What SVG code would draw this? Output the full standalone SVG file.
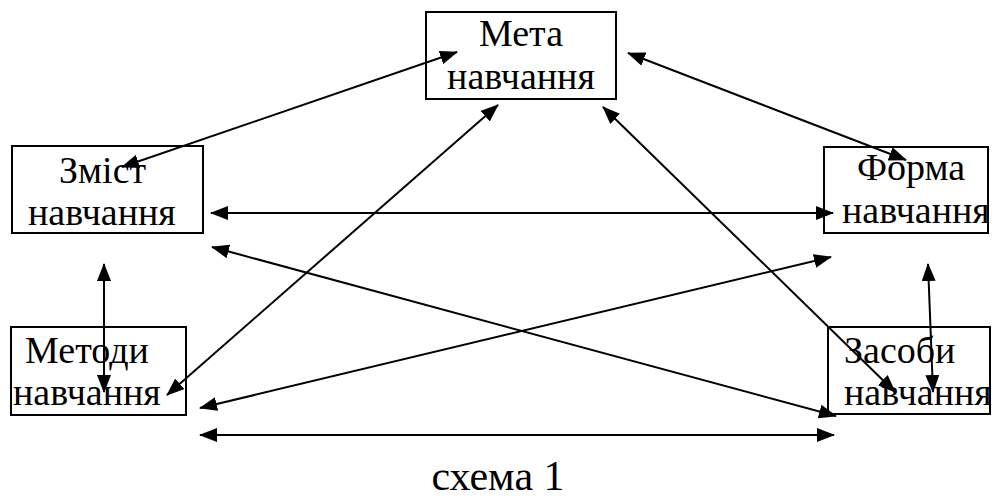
<svg xmlns="http://www.w3.org/2000/svg" width="997" height="498" viewBox="0 0 997 498">
<style>
  .box { fill: #fff; stroke: #000; stroke-width: 2; }
  .t { font-family: "Liberation Serif", "Times New Roman", serif; font-size: 38px; fill: #000; }
  .cap { font-size: 42px; }
  .c line { stroke: #000; stroke-width: 2; fill: none; marker-start: url(#ah); marker-end: url(#ah); }
</style>
<defs>
  <marker id="ah" viewBox="0 0 18 14" refX="17" refY="7" markerWidth="18" markerHeight="14" markerUnits="userSpaceOnUse" orient="auto-start-reverse">
    <path d="M0,0 L18,7 L0,14 Z" fill="#000"/>
  </marker>
</defs>
<rect width="997" height="498" fill="#fff"/>
<g id="meta">
  <rect class="box" x="426" y="12" width="190" height="87"/>
  <text class="t" x="521" y="46" text-anchor="middle">Мета</text>
  <text class="t" x="521" y="89" text-anchor="middle">навчання</text>
</g>
<g id="zmist">
  <rect class="box" x="12" y="146" width="191" height="87"/>
  <text class="t" x="59" y="183">Зміст</text>
  <text class="t" x="28" y="225">навчання</text>
</g>
<g id="forma">
  <rect class="box" x="824" y="147" width="164" height="86"/>
  <text class="t" x="857" y="180">Форма</text>
  <text class="t" x="842" y="223">навчання</text>
</g>
<g id="metody">
  <rect class="box" x="11" y="327" width="175" height="88"/>
  <text class="t" x="25" y="363">Методи</text>
  <text class="t" x="13" y="405">навчання</text>
</g>
<g id="zasoby">
  <rect class="box" x="828" y="327" width="162" height="87"/>
  <text class="t" x="844" y="363">Засоби</text>
  <text class="t" x="844" y="405">навчання</text>
</g>
<g id="connectors" class="c">
  <line x1="122" y1="167" x2="457" y2="52"/>
  <line x1="628" y1="53" x2="906" y2="160"/>
  <line x1="211" y1="213" x2="833" y2="213"/>
  <line x1="212" y1="247" x2="836" y2="416"/>
  <line x1="498" y1="105" x2="167" y2="395"/>
  <line x1="603" y1="107" x2="895" y2="392"/>
  <line x1="831" y1="257" x2="200" y2="408"/>
  <line x1="104" y1="264" x2="104" y2="392"/>
  <line x1="928" y1="264" x2="933" y2="392"/>
  <line x1="200" y1="435" x2="834" y2="435"/>
</g>
<text class="t cap" x="498" y="490" text-anchor="middle">схема 1</text>
</svg>
